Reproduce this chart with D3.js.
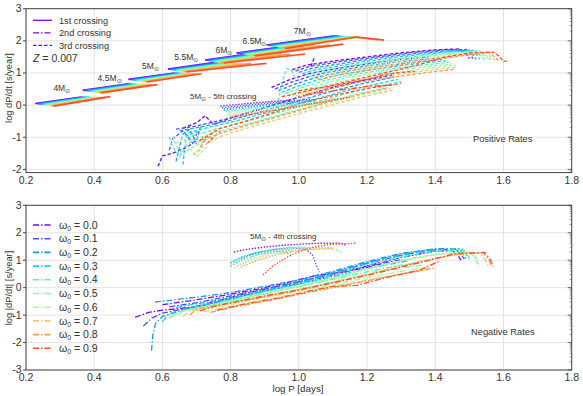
<!DOCTYPE html>
<html><head><meta charset="utf-8">
<script src="https://cdn.jsdelivr.net/npm/d3@7/dist/d3.min.js"></script>
<style>body{margin:0;background:#fff}text{font-family:"Liberation Sans",Arial,Helvetica,sans-serif;fill:#333}</style>
</head><body><svg id="c" width="583" height="396"></svg>
<script>
// ---------------- DATA ----------------
const omegas = [0.0,0.1,0.2,0.3,0.4,0.5,0.6,0.7,0.8,0.9];
const xTicks = [0.2,0.4,0.6,0.8,1.0,1.2,1.4,1.6,1.8];
const yTicksTop = [-2,-1,0,1,2,3];
const yTicksBottom = [-3,-2,-1,0,1,2,3];
const massLabels = ["4","4.5","5","5.5","6","6.5","7"];
const massLabelPos = [[0.305,0.44],[0.445,0.74],[0.565,1.11],[0.67,1.41],[0.78,1.63],[0.87,1.91],[1.01,2.22]];

// 1st crossing (solid), per mass, per omega: [logP, logdPdt, ...]
const cross1_4 = [[0.227,0.05,0.362,0.25],[0.233,0.041,0.37,0.25],[0.239,0.032,0.378,0.249],[0.245,0.023,0.386,0.247],[0.251,0.014,0.394,0.245],[0.257,0.005,0.402,0.243],[0.263,-0.004,0.41,0.242],[0.269,-0.013,0.42,0.243],[0.275,-0.022,0.432,0.25],[0.282,-0.03,0.447,0.265]];
const cross1_45 = [[0.366,0.46,0.5,0.66],[0.372,0.451,0.508,0.658],[0.378,0.442,0.516,0.655],[0.384,0.433,0.524,0.652],[0.39,0.424,0.532,0.649],[0.396,0.415,0.54,0.646],[0.402,0.406,0.548,0.643],[0.408,0.397,0.558,0.64],[0.414,0.388,0.57,0.638],[0.42,0.38,0.585,0.64]];
const cross1_5 = [[0.5,0.8,0.635,1.0],[0.506,0.791,0.643,0.998],[0.512,0.782,0.651,0.995],[0.518,0.773,0.659,0.992],[0.524,0.764,0.667,0.989],[0.53,0.755,0.675,0.986],[0.536,0.746,0.683,0.983],[0.542,0.737,0.692,0.98],[0.548,0.728,0.702,0.977],[0.555,0.72,0.715,0.975]];
const cross1_55 = [[0.616,1.12,0.75,1.32],[0.622,1.11,0.762,1.318],[0.628,1.1,0.774,1.316],[0.634,1.09,0.786,1.314],[0.64,1.08,0.798,1.312],[0.646,1.07,0.81,1.31],[0.652,1.06,0.822,1.308],[0.658,1.05,0.836,1.305],[0.664,1.04,0.86,1.3],[0.67,1.03,0.905,1.3]];
const cross1_6 = [[0.725,1.4,0.86,1.6],[0.731,1.39,0.872,1.6],[0.737,1.38,0.884,1.6],[0.743,1.37,0.896,1.6],[0.749,1.36,0.908,1.598],[0.755,1.35,0.92,1.596],[0.761,1.34,0.932,1.594],[0.767,1.33,0.948,1.592],[0.773,1.32,0.975,1.59],[0.78,1.31,1.018,1.59]];
const cross1_65 = [[0.817,1.62,0.97,1.84],[0.823,1.61,0.982,1.842],[0.829,1.6,0.994,1.844],[0.835,1.59,1.006,1.846],[0.841,1.58,1.018,1.848],[0.847,1.57,1.03,1.85],[0.853,1.56,1.045,1.855],[0.859,1.55,1.062,1.86],[0.865,1.54,1.09,1.875],[0.872,1.53,1.13,1.9]];
const cross1_7 = [[0.905,1.87,1.1,2.15,1.12,2.12],[0.911,1.86,1.11,2.145,1.13,2.11],[0.917,1.85,1.12,2.14,1.14,2.1],[0.923,1.84,1.13,2.135,1.15,2.09],[0.929,1.83,1.14,2.13,1.16,2.08],[0.935,1.82,1.15,2.125,1.17,2.07],[0.941,1.81,1.155,2.12,1.19,2.06],[0.947,1.8,1.16,2.12,1.21,2.05],[0.953,1.78,1.165,2.12,1.23,2.03],[0.96,1.76,1.17,2.12,1.25,2.02]];

// 3rd crossing (dashed), top panel
const cross3High = [
 [[0.98,1.1],[1.02,1.24],[1.1,1.37],[1.2,1.5],[1.3,1.63],[1.4,1.72],[1.47,1.75],[1.49,1.6],[1.5,1.45]],
 [[0.99,1.06],[1.03,1.2],[1.12,1.35],[1.22,1.49],[1.32,1.62],[1.42,1.71],[1.49,1.73],[1.505,1.55],[1.51,1.44]],
 [[1.0,1.02],[1.04,1.15],[1.14,1.32],[1.24,1.48],[1.34,1.6],[1.44,1.69],[1.5,1.71],[1.515,1.5],[1.52,1.42]],
 [[1.01,0.98],[1.05,1.1],[1.15,1.28],[1.25,1.44],[1.35,1.57],[1.45,1.67],[1.51,1.7],[1.525,1.52],[1.53,1.42]],
 [[1.02,0.94],[1.06,1.06],[1.16,1.24],[1.26,1.4],[1.36,1.54],[1.46,1.65],[1.52,1.69],[1.535,1.5],[1.545,1.42]],
 [[1.03,0.9],[1.07,1.02],[1.17,1.2],[1.27,1.37],[1.37,1.51],[1.47,1.63],[1.53,1.67],[1.55,1.48],[1.56,1.42]],
 [[1.04,0.86],[1.08,0.98],[1.18,1.16],[1.28,1.33],[1.38,1.48],[1.48,1.6],[1.54,1.65],[1.555,1.5],[1.565,1.42]],
 [[1.05,0.82],[1.09,0.94],[1.19,1.12],[1.29,1.29],[1.39,1.45],[1.49,1.58],[1.55,1.64],[1.565,1.48],[1.575,1.4]],
 [[1.06,0.78],[1.1,0.9],[1.2,1.08],[1.3,1.25],[1.4,1.42],[1.5,1.56],[1.56,1.64],[1.575,1.48],[1.585,1.4]],
 [[0.95,0.26],[1.05,0.5],[1.15,0.75],[1.25,1.0],[1.35,1.25],[1.42,1.48],[1.5,1.62],[1.57,1.65],[1.59,1.5],[1.6,1.35],[1.61,1.38]]
];
const cross3Upper = [
 [[0.92,0.55],[0.97,0.78],[1.03,0.98],[1.1,1.12],[1.2,1.28],[1.3,1.42],[1.38,1.5]],
 [[0.93,0.5],[0.98,0.72],[1.04,0.92],[1.11,1.07],[1.21,1.23],[1.31,1.37],[1.4,1.46]],
 [[0.94,0.45],[0.99,0.66],[1.05,0.86],[1.12,1.02],[1.22,1.18],[1.32,1.32],[1.42,1.42]],
 [[0.95,0.4],[1.0,0.6],[1.06,0.8],[1.13,0.97],[1.23,1.13],[1.33,1.27],[1.43,1.38]],
 [[0.96,0.36],[1.01,0.55],[1.07,0.75],[1.14,0.92],[1.24,1.08],[1.34,1.22],[1.44,1.33]],
 [[0.97,0.32],[1.02,0.5],[1.08,0.7],[1.15,0.87],[1.25,1.03],[1.35,1.17],[1.45,1.28]],
 [[0.98,0.3],[1.03,0.46],[1.09,0.65],[1.16,0.82],[1.26,0.98],[1.36,1.12],[1.46,1.24]],
 [[0.99,0.28],[1.04,0.42],[1.1,0.6],[1.17,0.77],[1.27,0.93],[1.37,1.07],[1.46,1.18]],
 [[1.0,0.25],[1.05,0.38],[1.11,0.55],[1.18,0.72],[1.28,0.88],[1.38,1.02],[1.46,1.12]],
 [[1.0,0.45],[1.1,0.6],[1.2,0.8],[1.25,0.95],[1.3,1.02],[1.34,1.05]]
];
const cross3Mid = [
 [[0.66,-0.72],[0.7,-0.55],[0.725,-0.33],[0.75,-0.6],[0.8,-0.4],[0.9,-0.08],[1.0,0.25],[1.1,0.55],[1.2,0.8],[1.28,0.95]],
 [[0.64,-0.75],[0.7,-0.65],[0.78,-0.45],[0.88,-0.15],[0.98,0.18],[1.08,0.48],[1.18,0.74],[1.27,0.92]],
 [[0.65,-0.8],[0.72,-0.66],[0.8,-0.47],[0.9,-0.18],[1.0,0.14],[1.1,0.44],[1.2,0.7],[1.28,0.87]],
 [[0.66,-0.9],[0.74,-0.68],[0.82,-0.48],[0.92,-0.2],[1.02,0.1],[1.12,0.4],[1.22,0.64],[1.29,0.8]],
 [[0.67,-1.0],[0.75,-0.78],[0.84,-0.52],[0.94,-0.23],[1.04,0.06],[1.14,0.36],[1.24,0.6],[1.3,0.74]],
 [[0.68,-1.1],[0.76,-0.83],[0.86,-0.55],[0.96,-0.26],[1.06,0.03],[1.16,0.32],[1.26,0.56]],
 [[0.69,-1.2],[0.77,-0.88],[0.87,-0.58],[0.97,-0.28],[1.07,0.0],[1.17,0.28],[1.27,0.52]],
 [[0.7,-1.45],[0.73,-1.2],[0.78,-0.93],[0.88,-0.62],[0.98,-0.32],[1.08,-0.04],[1.18,0.24],[1.28,0.48]],
 [[0.72,-1.1],[0.78,-0.83],[0.88,-0.52],[0.98,-0.22],[1.08,0.08],[1.18,0.34],[1.26,0.54]],
 [[0.71,-1.1],[0.77,-0.72],[0.86,-0.45],[0.95,-0.15],[1.0,0.05],[1.1,0.3],[1.2,0.52],[1.3,0.68]]
];
const cross3Low = [
 [[0.587,-1.9],[0.6,-1.58],[0.63,-1.5],[0.67,-1.32],[0.7,-1.1],[0.71,-0.72]],
 [[0.62,-1.4],[0.63,-1.05],[0.66,-0.8],[0.69,-1.2],[0.7,-0.9]],
 [[0.64,-1.75],[0.65,-1.3],[0.66,-0.9],[0.68,-0.75],[0.7,-1.2],[0.72,-1.0]],
 [[0.66,-1.85],[0.665,-1.4],[0.67,-0.95],[0.7,-0.85],[0.72,-0.6]],
 [[0.62,-1.0],[0.63,-1.3],[0.65,-1.6],[0.67,-1.25],[0.7,-1.05]],
 [[0.63,-0.95],[0.64,-1.25],[0.66,-1.55],[0.68,-1.35],[0.72,-1.15]],
 [[0.64,-1.2],[0.66,-1.0],[0.68,-1.35],[0.7,-1.6],[0.73,-1.3]],
 [[0.69,-1.55],[0.71,-1.4],[0.72,-1.1],[0.74,-0.9],[0.76,-0.7]],
 [[0.71,-1.3],[0.73,-1.05],[0.75,-0.85]],
 [[0.73,-1.2],[0.75,-1.0],[0.77,-0.8]]
];
// extra dashed pieces and the omega index of each
const cross3ExtraOmega = [4, 0];
const cross3Extra = [
 [[0.94,0.13],[0.95,0.7],[0.965,1.15],[0.98,1.05],[0.99,0.8]],
 [[1.035,1.2],[1.047,1.53]]
];
// 2nd crossing pieces in top panel (dash-dot)
const cross2TopOmega = [9];
const cross2Top = [[[1.02,0.32],[1.12,0.47],[1.2,0.58],[1.28,0.63]]];
// 5M - 5th crossing (dotted), top panel
const cross5 = [
 [[0.77,-0.03],[0.85,0.05],[0.93,0.12],[0.97,0.15],[0.985,-0.1]],
 [[0.775,-0.08],[0.85,0.0],[0.93,0.08],[1.0,0.15],[1.04,0.18]],
 [[0.78,-0.12],[0.86,-0.03],[0.94,0.05],[1.02,0.13],[1.05,0.15]],
 [[0.78,-0.16],[0.86,-0.07],[0.94,0.02],[1.02,0.1],[1.05,0.12]],
 [[0.785,-0.2],[0.87,-0.1],[0.95,-0.02],[1.02,0.05],[1.04,0.02]],
 [[0.79,-0.24],[0.87,-0.14],[0.95,-0.05],[1.03,0.04],[1.05,-0.05]],
 [[0.79,-0.28],[0.88,-0.17],[0.96,-0.07],[1.03,0.02],[1.05,-0.1]],
 [[0.795,-0.32],[0.88,-0.2],[0.97,-0.08],[1.05,0.05],[1.1,0.2]],
 [[0.8,-0.36],[0.89,-0.22],[0.98,-0.08],[1.06,0.08],[1.12,0.22]],
 [[0.8,-0.4],[0.9,-0.22],[1.0,-0.03],[1.08,0.12],[1.15,0.25]]
];

// 2nd crossing (dash-dot), bottom panel, |dP/dt|
const cross2A = [
 [[0.52,-1.08],[0.56,-0.9],[0.6,-0.82],[0.7,-0.7],[0.8,-0.4],[0.9,-0.12],[1.0,0.15],[1.1,0.45],[1.2,0.8],[1.3,1.1],[1.4,1.33],[1.45,1.35],[1.465,1.2],[1.475,1.0]],
 [[0.544,-1.4],[0.57,-1.1],[0.6,-0.93],[0.7,-0.68],[0.8,-0.35],[0.9,-0.05],[1.0,0.2],[1.1,0.52],[1.2,0.88],[1.3,1.18],[1.4,1.38],[1.46,1.4],[1.475,1.2],[1.485,1.05]],
 [[0.568,-2.3],[0.572,-1.7],[0.58,-1.3],[0.6,-1.05],[0.65,-0.85],[0.72,-0.65],[0.8,-0.4],[0.9,-0.1],[1.0,0.2],[1.1,0.55],[1.2,0.92],[1.3,1.22],[1.4,1.42],[1.47,1.42],[1.48,1.25],[1.49,1.05]],
 [[0.6,-1.24],[0.62,-0.95],[0.66,-0.8],[0.75,-0.55],[0.85,-0.25],[0.95,0.02],[1.05,0.33],[1.15,0.7],[1.25,1.05],[1.35,1.3],[1.45,1.42],[1.48,1.4],[1.49,1.2],[1.5,1.05]],
 [[0.62,-1.1],[0.65,-0.88],[0.7,-0.75],[0.8,-0.45],[0.9,-0.15],[1.0,0.12],[1.1,0.45],[1.2,0.82],[1.3,1.12],[1.4,1.32],[1.47,1.38],[1.49,1.32],[1.5,1.1]],
 [[0.645,-1.0],[0.66,-0.85],[0.72,-0.7],[0.82,-0.42],[0.92,-0.15],[1.02,0.12],[1.12,0.42],[1.22,0.75],[1.32,1.05],[1.42,1.25],[1.5,1.3],[1.515,1.1],[1.525,0.85]],
 [[0.63,-1.05],[0.645,-0.88],[0.7,-0.75],[0.8,-0.5],[0.9,-0.22],[1.0,0.05],[1.1,0.35],[1.2,0.68],[1.3,0.98],[1.4,1.2],[1.5,1.28],[1.52,1.1],[1.53,0.78]],
 [[0.66,-1.05],[0.68,-0.85],[0.75,-0.7],[0.85,-0.45],[0.95,-0.2],[1.05,0.05],[1.15,0.35],[1.25,0.65],[1.35,0.95],[1.45,1.18],[1.53,1.26],[1.545,1.05],[1.555,0.8]],
 [[0.68,-1.0],[0.7,-0.78],[0.78,-0.6],[0.88,-0.38],[0.98,-0.15],[1.08,0.12],[1.18,0.4],[1.28,0.7],[1.38,1.0],[1.46,1.22],[1.54,1.27],[1.555,1.05],[1.565,0.8]],
 [[0.71,-0.85],[0.75,-0.68],[0.82,-0.5],[0.9,-0.3],[1.0,-0.08],[1.1,0.18],[1.2,0.45],[1.3,0.75],[1.4,1.05],[1.46,1.25],[1.545,1.28],[1.56,1.05],[1.57,0.77]]
];
const cross2B = [
 [[0.6,-0.62],[0.68,-0.48],[0.78,-0.28],[0.88,-0.05],[0.98,0.22],[1.05,0.45],[1.14,0.58],[1.24,0.85]],
 [[0.62,-0.7],[0.7,-0.55],[0.8,-0.3],[0.9,-0.05],[1.0,0.22],[1.1,0.5],[1.2,0.78],[1.3,1.02]],
 [[0.578,-0.53],[0.65,-0.42],[0.71,-0.33],[0.8,-0.18],[0.9,0.05],[1.0,0.28],[1.1,0.6],[1.2,0.95],[1.3,1.25],[1.38,1.38]],
 [[0.64,-0.72],[0.72,-0.55],[0.82,-0.32],[0.92,-0.08],[1.02,0.18],[1.12,0.46],[1.22,0.74],[1.32,0.98]],
 [[0.66,-0.75],[0.74,-0.6],[0.84,-0.38],[0.94,-0.12],[1.04,0.14],[1.14,0.42],[1.24,0.68],[1.34,0.9]],
 [[0.68,-0.8],[0.76,-0.62],[0.86,-0.4],[0.96,-0.15],[1.06,0.1],[1.16,0.38],[1.26,0.62],[1.36,0.82]],
 [[0.7,-0.85],[0.78,-0.66],[0.88,-0.42],[0.98,-0.18],[1.08,0.06],[1.18,0.32],[1.28,0.55],[1.38,0.75]],
 [[0.72,-0.88],[0.8,-0.68],[0.9,-0.45],[1.0,-0.2],[1.1,0.05],[1.2,0.28],[1.3,0.5],[1.38,0.66]],
 [[0.74,-0.9],[0.82,-0.68],[0.92,-0.45],[1.02,-0.2],[1.12,0.05],[1.22,0.3],[1.32,0.55],[1.4,0.72]],
 [[0.76,-0.82],[0.84,-0.6],[0.94,-0.38],[1.04,-0.1],[1.1,0.05],[1.17,0.08],[1.25,0.35],[1.35,0.62],[1.41,0.95]]
];
// 5M - 4th crossing (dotted), bottom panel
const cross4 = [
 [[0.81,1.3],[0.85,1.4],[0.9,1.48],[0.95,1.54],[1.0,1.58],[1.06,1.62],[1.12,1.62],[1.14,1.55]],
 [[0.83,1.05],[0.87,1.25],[0.93,1.4],[0.98,1.45],[1.02,1.4],[1.04,1.2],[1.05,0.85],[1.06,0.58]],
 [[0.8,0.9],[0.83,1.1],[0.88,1.28],[0.94,1.38],[0.98,1.36]],
 [[0.8,0.78],[0.83,1.0],[0.88,1.2],[0.93,1.32],[0.96,1.3],[0.98,1.15]],
 [[0.81,0.98],[0.85,1.2],[0.9,1.35],[0.96,1.45],[1.0,1.48],[1.03,1.45]],
 [[0.8,0.85],[0.84,1.1],[0.9,1.3],[0.97,1.42],[1.05,1.48],[1.1,1.45],[1.13,1.25]],
 [[0.81,0.72],[0.85,0.95],[0.9,1.15],[0.96,1.3],[1.02,1.38],[1.08,1.4],[1.12,1.32]],
 [[0.82,0.8],[0.86,1.05],[0.92,1.25],[0.98,1.38],[1.05,1.45],[1.1,1.45]],
 [[0.83,0.75],[0.88,1.0],[0.94,1.22],[1.0,1.35],[1.06,1.42],[1.1,1.42]],
 [[0.895,0.46],[0.92,0.75],[0.95,1.0],[0.98,1.2],[1.02,1.4],[1.06,1.52],[1.1,1.58],[1.17,1.62]]
];

// ---------------- CHART ----------------
const svg = d3.select("#c");
const x = d3.scaleLinear().domain([0.2,1.8]).range([26,571.7]);
const yT = d3.scaleLinear().domain([-2.1,3]).range([172.6,8.7]);
const yB = d3.scaleLinear().domain([-3,3]).range([370,205.3]);
const rainbow = w => { const r=Math.min(1,Math.abs(2*w-0.5)), g=Math.sin(Math.PI*w), b=Math.cos(Math.PI*w/2);
  return d3.rgb(Math.round(r*255),Math.round(g*255),Math.round(b*255)).formatHex(); };
const legendPurple = rainbow(0);
const DASH = {solid:null, dashdot:"6,2,1.5,2", dashed:"3.5,2", dotted:"1.3,1.7"};

function panel(y, yTicks, id, labelGap){
  const [x0,x1]=x.range(), [yb,yt]=y.range();
  svg.append("clipPath").attr("id",id).append("rect").attr("x",x0).attr("y",yt).attr("width",x1-x0).attr("height",yb-yt);
  const g = svg.append("g");
  g.selectAll(".gx").data(xTicks).join("line").attr("x1",d=>x(d)).attr("x2",d=>x(d)).attr("y1",yt).attr("y2",yb).attr("stroke","#e3e3e3");
  g.selectAll(".gy").data(yTicks).join("line").attr("x1",x0).attr("x2",x1).attr("y1",d=>y(d)).attr("y2",d=>y(d)).attr("stroke","#e3e3e3");
  const minors=[];
  yTicks.forEach(k=>{ for(let m=2;m<=9;m++){ const v=k-1+Math.log10(m); if(v>y.domain()[0]) minors.push(v);} });
  g.selectAll(".mr").data(minors).join("line").attr("x1",x1).attr("x2",x1-2).attr("y1",d=>y(d)).attr("y2",d=>y(d)).attr("stroke","#555").attr("stroke-width",0.6);
  g.selectAll(".Mr").data(yTicks).join("line").attr("x1",x1).attr("x2",x1-4).attr("y1",d=>y(d)).attr("y2",d=>y(d)).attr("stroke","#444").attr("stroke-width",0.8);
  g.selectAll(".tl").data(yTicks).join("line").attr("x1",x0).attr("x2",x0-3).attr("y1",d=>y(d)).attr("y2",d=>y(d)).attr("stroke","#444");
  g.append("rect").attr("x",x0).attr("y",yt).attr("width",x1-x0).attr("height",yb-yt).attr("fill","none").attr("stroke","#444").attr("stroke-width",1);
  g.selectAll(".yl").data(yTicks).join("text").attr("x",x0-4.5).attr("y",d=>y(d)+3.4).attr("text-anchor","end").attr("font-size",10.5).text(d=>d);
  g.selectAll(".xl").data(xTicks).join("text").attr("x",d=>x(d)).attr("y",yb+labelGap).attr("text-anchor","middle").attr("font-size",10.5).text(d=>d.toFixed(1));
  return svg.append("g").attr("clip-path",`url(#${id})`);
}
function drawCurves(g, y, curves, colorIdx, dash, width){
  const line = d3.line().x(d=>x(d[0])).y(d=>y(d[1]));
  curves.forEach((c,i)=>{
    g.append("path").attr("d",line(c)).attr("fill","none").attr("stroke",rainbow(omegas[colorIdx(i)]))
     .attr("stroke-width",width||1.3).attr("stroke-dasharray",DASH[dash]).attr("stroke-linejoin","round");
  });
}
const pairs = arr => { const p=[]; for(let i=0;i<arr.length;i+=2) p.push([arr[i],arr[i+1]]); return p; };

// ---- top panel ----
const gT = panel(yT, yTicksTop, "clipT", 11);
drawCurves(gT, yT, cross3Low, i=>i, "dashed");
drawCurves(gT, yT, cross3Mid, i=>i, "dashed");
drawCurves(gT, yT, cross3Upper, i=>i, "dashed");
drawCurves(gT, yT, cross3High, i=>i, "dashed");
drawCurves(gT, yT, cross3Extra, i=>cross3ExtraOmega[i], "dashed");
drawCurves(gT, yT, cross2Top, i=>cross2TopOmega[i], "dashdot");
drawCurves(gT, yT, cross5, i=>i, "dotted", 1.4);
[cross1_4,cross1_45,cross1_5,cross1_55,cross1_6,cross1_65,cross1_7].forEach(m=>{
  drawCurves(gT, yT, m.map(pairs), i=>i, "solid", 1.7);
});
massLabels.forEach((m,i)=>{
  const t = svg.append("text").attr("x",x(massLabelPos[i][0])).attr("y",yT(massLabelPos[i][1])).attr("text-anchor","middle").attr("font-size",8.5);
  t.append("tspan").text(m+"M");
  t.append("tspan").attr("font-size",6).attr("dy",2).text("⊙");
});
const legT = [["1st crossing","solid"],["2nd crossing","dashdot"],["3rd crossing","dashed"]];
legT.forEach((d,i)=>{
  const yy = 20.3 + i*12.5;
  svg.append("line").attr("x1",33).attr("x2",52).attr("y1",yy).attr("y2",yy).attr("stroke",legendPurple).attr("stroke-width",1.3).attr("stroke-dasharray",DASH[d[1]]);
  svg.append("text").attr("x",59).attr("y",yy+3.3).attr("font-size",9.2).text(d[0]);
});
const zt = svg.append("text").attr("x",33).attr("y",61.5).attr("font-size",10.5);
zt.append("tspan").attr("font-style","italic").text("Z");
zt.append("tspan").text(" = 0.007");
const a5 = svg.append("text").attr("x",190).attr("y",99).attr("font-size",8);
a5.append("tspan").text("5M"); a5.append("tspan").attr("font-size",5.5).attr("dy",1.8).text("⊙"); a5.append("tspan").attr("dy",-1.8).text(" - 5th crossing");
svg.append("text").attr("x",473).attr("y",141.5).attr("font-size",9.3).text("Positive Rates");
svg.append("text").attr("x",9).attr("y",88).attr("transform","rotate(-90,9,88)").attr("dy",3).attr("text-anchor","middle").attr("font-size",9.3).text("log dP/dt [s/year]");

// ---- bottom panel ----
const gB = panel(yB, yTicksBottom, "clipB", 10.5);
drawCurves(gB, yB, cross2B, i=>i, "dashdot");
drawCurves(gB, yB, cross2A, i=>i, "dashdot");
drawCurves(gB, yB, cross4, i=>i, "dotted", 1.4);
omegas.forEach((w,i)=>{
  const yy = 225 + i*13.7;
  svg.append("line").attr("x1",33).attr("x2",52).attr("y1",yy).attr("y2",yy).attr("stroke",rainbow(w)).attr("stroke-width",1.6).attr("stroke-dasharray",DASH.dashdot);
  const t = svg.append("text").attr("x",59).attr("y",yy+3.6).attr("font-size",10.5);
  t.append("tspan").text("ω"); t.append("tspan").attr("font-size",7).attr("dy",2).text("0");
  t.append("tspan").attr("dy",-2).text(" = "+w.toFixed(1));
});
const a4 = svg.append("text").attr("x",250).attr("y",239).attr("font-size",8);
a4.append("tspan").text("5M"); a4.append("tspan").attr("font-size",5.5).attr("dy",1.8).text("⊙"); a4.append("tspan").attr("dy",-1.8).text(" - 4th crossing");
svg.append("text").attr("x",471).attr("y",335).attr("font-size",9.3).text("Negative Rates");
svg.append("text").attr("x",9).attr("y",288).attr("transform","rotate(-90,9,288)").attr("dy",3).attr("text-anchor","middle").attr("font-size",9.3).text("log |dP/dt| [s/year]");
svg.append("text").attr("x",298).attr("y",391.5).attr("text-anchor","middle").attr("font-size",9.8).text("log P [days]");
</script></body></html>
